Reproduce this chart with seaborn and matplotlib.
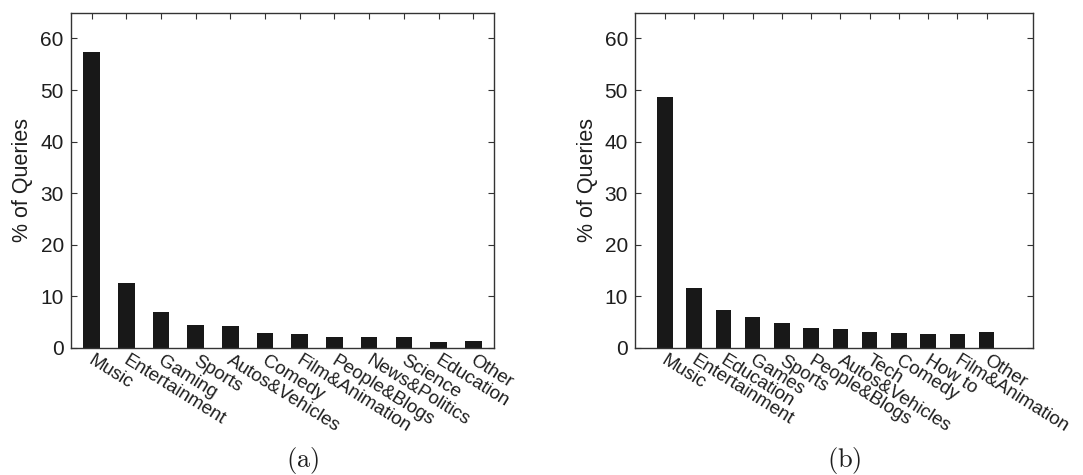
import matplotlib
matplotlib.use("Agg")
import matplotlib.pyplot as plt
import matplotlib.transforms as mtransforms
import seaborn as sns
import pandas as pd

cats_a = ["Music", "Entertainment", "Gaming", "Sports", "Autos&Vehicles", "Comedy",
          "Film&Animation", "People&Blogs", "News&Politics", "Science", "Education", "Other"]
vals_a = [57.3, 12.65, 7.0, 4.4, 4.2, 2.9, 2.65, 2.2, 2.2, 2.2, 1.2, 1.35]

cats_b = ["Music", "Entertainment", "Education", "Games", "Sports", "People&Blogs",
          "Autos&Vehicles", "Tech", "Comedy", "How to", "Film&Animation", "Other"]
vals_b = [48.6, 11.6, 7.3, 5.95, 4.8, 3.8, 3.7, 3.05, 2.9, 2.8, 2.8, 3.15]

yticks = [0, 10, 20, 30, 40, 50, 60]
panel_labels = ["(a)", "(b)"]

sns.set_theme(style="white")
plt.rcParams['font.family'] = ['Liberation Sans', 'DejaVu Sans']
plt.rcParams['mathtext.fontset'] = 'cm'

fig = plt.figure(figsize=(10.83, 4.75), dpi=100)
ax_a = fig.add_axes([0.0653, 0.2674, 0.3909, 0.7059])
ax_b = fig.add_axes([0.5863, 0.2674, 0.3672, 0.7059])

txt = "#1e1e1e"
for ax, cats, vals, width, xlim, lab, lx in [
    (ax_a, cats_a, vals_a, 0.48, (-0.6, 11.6), panel_labels[0], 0.279),
    (ax_b, cats_b, vals_b, 0.53, (-1.02, 12.57), panel_labels[1], 0.780),
]:
    df = pd.DataFrame({"cat": cats, "val": vals})
    sns.barplot(data=df, x="cat", y="val", order=cats, color="#181818",
                width=width, saturation=1, ax=ax, edgecolor="none")
    ax.set_xlim(*xlim)
    ax.set_ylim(0, 65)
    ax.set_yticks(yticks)
    ax.set_xlabel("")
    ax.set_ylabel("% of Queries", fontsize=15.5, color=txt, labelpad=5)
    ax.tick_params(axis="both", direction="in", length=4, width=0.8,
                   top=True, right=True, bottom=True, left=True,
                   colors="#333333", labelcolor=txt)
    ax.tick_params(axis="y", pad=5, labelsize=15)
    ax.set_xticks(range(len(cats)))
    ax.set_xticklabels(cats, rotation=-32, ha="left", va="top",
                       rotation_mode="anchor", fontsize=13.5, color=txt)
    ax.tick_params(axis="x", pad=3)
    off = mtransforms.ScaledTranslation(3 / 100, 0, fig.dpi_scale_trans)
    for t in ax.get_xticklabels():
        t.set_transform(t.get_transform() + off)
    for sp in ax.spines.values():
        sp.set_visible(True)
        sp.set_color("#333333")
        sp.set_linewidth(1.0)
    fig.text(lx, 0.030, r"$\mathrm{" + lab + "}$", fontsize=19, ha="center",
             va="center", color=txt)

fig.savefig("out.png", dpi=100, facecolor="white")
